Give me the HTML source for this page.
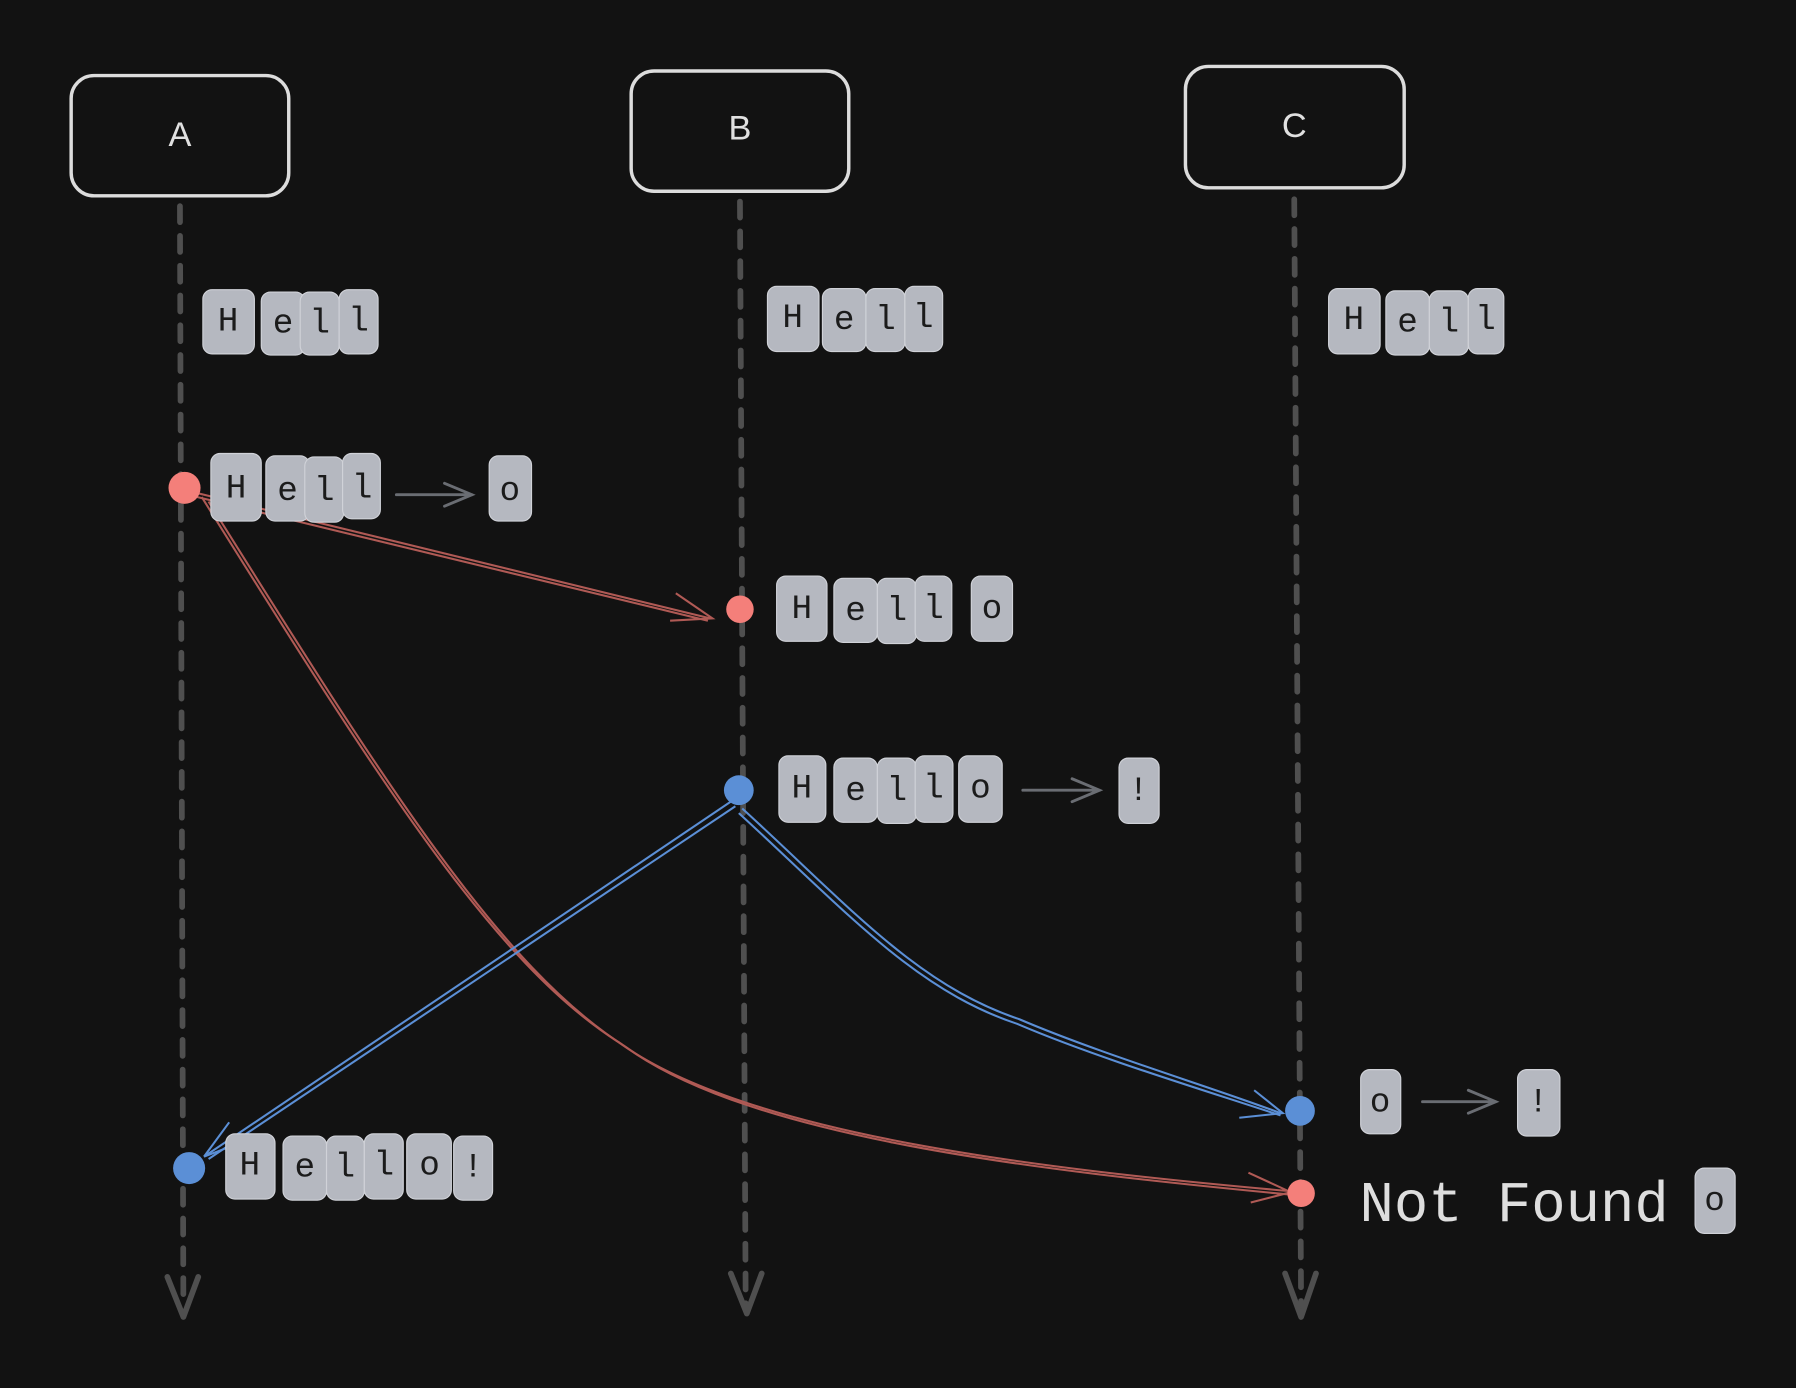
<!DOCTYPE html>
<html><head><meta charset="utf-8"><style>
html,body{margin:0;padding:0;background:#121212;}
svg{display:block}
.b{fill:#b5b8c0;stroke:#d0d2d8;stroke-width:1;}
.t{font-family:"Liberation Mono",monospace;font-size:30px;fill:#1b1b1b;text-anchor:middle;dominant-baseline:central;}
.h{font-family:"Liberation Sans",sans-serif;font-size:30px;fill:#e0e0e0;text-anchor:middle;dominant-baseline:central;}
.life{stroke:#4f4f4f;stroke-width:5;stroke-dasharray:14 12;stroke-linecap:round;fill:none}
.head{stroke:#4f4f4f;stroke-width:5;fill:none;stroke-linecap:round;stroke-linejoin:round}
.ga{stroke:#6a6d73;stroke-width:2.5;fill:none;stroke-linecap:round}
.red{stroke:#b05a55;stroke-width:1.8;fill:none}
.blue{stroke:#5b8fd6;stroke-width:1.8;fill:none}
</style></head><body>
<svg width="1796" height="1388" viewBox="0 0 1568 1212" xmlns="http://www.w3.org/2000/svg">
<rect width="1568" height="1212" fill="#121212"/>
<!-- headers -->
<rect x="62" y="66" width="190" height="105" rx="20" fill="none" stroke="#dcdcdc" stroke-width="3"/>
<text class="h" x="157" y="118">A</text>
<rect x="551" y="62" width="190" height="105" rx="20" fill="none" stroke="#dcdcdc" stroke-width="3"/>
<text class="h" x="646" y="112">B</text>
<rect x="1035" y="58" width="191" height="106" rx="20" fill="none" stroke="#dcdcdc" stroke-width="3"/>
<text class="h" x="1130" y="110">C</text>
<!-- lifelines -->
<path class="life" d="M157 180 L160 1140"/>
<path class="head" d="M146 1115 L160 1150 L173 1115"/>
<path class="life" d="M646 176 L651 1140"/>
<path class="head" d="M638 1112 L652 1147 L665 1112"/>
<path class="life" d="M1130 174 L1136 1140"/>
<path class="head" d="M1122 1112 L1136 1150 L1149 1112"/>
<!-- connectors -->
<path class="red" d="M170 430 L620 540 M172 434 L618 542"/>
<path class="red" d="M590 518 L622 540 L585 542"/>
<path class="red" d="M176 434 C330 680 430 840 540 910 C650 990 900 1020 1125 1040"/>
<path class="red" d="M182 438 C336 684 436 844 546 914 C656 994 906 1022 1125 1043"/>
<path class="red" d="M1090 1024 L1127 1041 L1092 1050"/>
<path class="blue" d="M638 700 L178 1010 M642 704 L182 1012"/>
<path class="blue" d="M178 1010 L200 980 M178 1010 L204 1000"/>
<path class="blue" d="M648 706 C740 790 800 860 890 890 C960 920 1060 950 1118 972"/>
<path class="blue" d="M645 710 C738 795 798 864 888 894 C958 924 1058 954 1118 974"/>
<path class="blue" d="M1095 952 L1120 972 L1082 976"/>
<!-- dots -->
<circle cx="161" cy="426" r="14" fill="#f47f7a"/>
<circle cx="646" cy="532" r="12" fill="#f47f7a"/>
<circle cx="1136" cy="1042" r="12" fill="#f47f7a"/>
<circle cx="645" cy="690" r="13" fill="#5b8fd6"/>
<circle cx="165" cy="1020" r="14" fill="#5b8fd6"/>
<circle cx="1135" cy="970" r="13" fill="#5b8fd6"/>
<!-- gray arrows -->
<path class="ga" d="M346 432 L412 432 M388 422 L412 432 L388 442"/>
<path class="ga" d="M893 690 L960 690 M936 680 L960 690 L936 700"/>
<path class="ga" d="M1242 962 L1306 962 M1282 952 L1306 962 L1282 972"/>
<!-- letter boxes row A1 -->
<g>
<rect class="b" x="177" y="253" width="45" height="56" rx="8"/><text class="t" x="199" y="281">H</text>
<rect class="b" x="228" y="255" width="38" height="55" rx="8"/><text class="t" x="247" y="283">e</text>
<rect class="b" x="262" y="255" width="34" height="55" rx="8"/><text class="t" x="279" y="283">l</text>
<rect class="b" x="296" y="253" width="34" height="56" rx="8"/><text class="t" x="313" y="281">l</text>
</g>
<g>
<rect class="b" x="670" y="250" width="45" height="57" rx="8"/><text class="t" x="692" y="278">H</text>
<rect class="b" x="718" y="252" width="38" height="55" rx="8"/><text class="t" x="737" y="280">e</text>
<rect class="b" x="756" y="252" width="34" height="55" rx="8"/><text class="t" x="773" y="280">l</text>
<rect class="b" x="790" y="250" width="33" height="57" rx="8"/><text class="t" x="806" y="278">l</text>
</g>
<g>
<rect class="b" x="1160" y="252" width="45" height="57" rx="8"/><text class="t" x="1182" y="280">H</text>
<rect class="b" x="1210" y="254" width="38" height="56" rx="8"/><text class="t" x="1229" y="282">e</text>
<rect class="b" x="1248" y="254" width="34" height="56" rx="8"/><text class="t" x="1265" y="282">l</text>
<rect class="b" x="1282" y="252" width="31" height="57" rx="8"/><text class="t" x="1297" y="280">l</text>
</g>
<g>
<rect class="b" x="184" y="396" width="44" height="59" rx="8"/><text class="t" x="206" y="427">H</text>
<rect class="b" x="232" y="398" width="38" height="57" rx="8"/><text class="t" x="251" y="429">e</text>
<rect class="b" x="266" y="399" width="34" height="57" rx="8"/><text class="t" x="283" y="429">l</text>
<rect class="b" x="299" y="396" width="33" height="57" rx="8"/><text class="t" x="316" y="427">l</text>
<rect class="b" x="427" y="398" width="37" height="57" rx="8"/><text class="t" x="445" y="429">o</text>
</g>
<g>
<rect class="b" x="678" y="503" width="44" height="57" rx="8"/><text class="t" x="700" y="532">H</text>
<rect class="b" x="728" y="505" width="38" height="56" rx="8"/><text class="t" x="747" y="534">e</text>
<rect class="b" x="766" y="505" width="34" height="57" rx="8"/><text class="t" x="783" y="534">l</text>
<rect class="b" x="799" y="503" width="32" height="57" rx="8"/><text class="t" x="815" y="532">l</text>
<rect class="b" x="848" y="503" width="36" height="57" rx="8"/><text class="t" x="866" y="532">o</text>
</g>
<g>
<rect class="b" x="680" y="660" width="41" height="58" rx="8"/><text class="t" x="700" y="689">H</text>
<rect class="b" x="728" y="662" width="38" height="56" rx="8"/><text class="t" x="747" y="691">e</text>
<rect class="b" x="766" y="662" width="34" height="57" rx="8"/><text class="t" x="783" y="691">l</text>
<rect class="b" x="799" y="660" width="33" height="58" rx="8"/><text class="t" x="815" y="689">l</text>
<rect class="b" x="837" y="660" width="38" height="58" rx="8"/><text class="t" x="856" y="689">o</text>
<rect class="b" x="977" y="662" width="35" height="57" rx="8"/><text class="t" x="994" y="691">!</text>
</g>
<g>
<rect class="b" x="197" y="990" width="43" height="57" rx="8"/><text class="t" x="218" y="1018">H</text>
<rect class="b" x="247" y="992" width="38" height="56" rx="8"/><text class="t" x="266" y="1020">e</text>
<rect class="b" x="285" y="992" width="33" height="56" rx="8"/><text class="t" x="301" y="1020">l</text>
<rect class="b" x="318" y="990" width="34" height="57" rx="8"/><text class="t" x="335" y="1018">l</text>
<rect class="b" x="355" y="990" width="39" height="57" rx="8"/><text class="t" x="375" y="1018">o</text>
<rect class="b" x="396" y="992" width="34" height="56" rx="8"/><text class="t" x="413" y="1020">!</text>
</g>
<g>
<rect class="b" x="1188" y="934" width="35" height="56" rx="8"/><text class="t" x="1205" y="963">o</text>
<rect class="b" x="1325" y="934" width="37" height="58" rx="8"/><text class="t" x="1343" y="963">!</text>
<rect class="b" x="1480" y="1020" width="35" height="57" rx="8"/><text class="t" x="1497" y="1049">o</text>
</g>
<text x="1187" y="1066" font-family="Liberation Mono, monospace" font-size="50" fill="#dedede">Not Found</text>
</svg>
</body></html>
